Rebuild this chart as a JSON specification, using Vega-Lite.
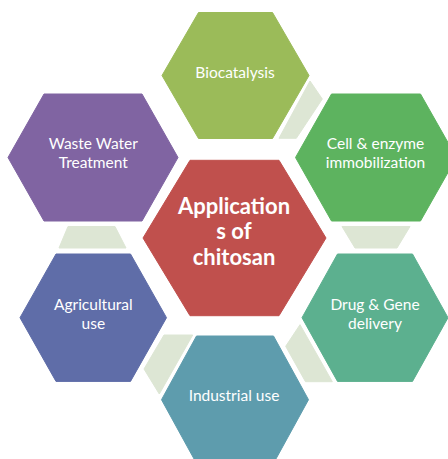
{
  "$schema": "https://vega.github.io/schema/vega-lite/v6.json",
  "width": 448,
  "height": 459,
  "autosize": {"type": "fit", "contains": "padding"},
  "padding": 0,
  "background": "white",
  "view": {"stroke": null},
  "datasets": {
    "polys": [
      {"shape": "Biocatalysis", "part": "Biocatalysis", "i": 0, "x": 162, "y": 75.5},
      {"shape": "Biocatalysis", "part": "Biocatalysis", "i": 1, "x": 198.5, "y": 12.5},
      {"shape": "Biocatalysis", "part": "Biocatalysis", "i": 2, "x": 272.5, "y": 12.5},
      {"shape": "Biocatalysis", "part": "Biocatalysis", "i": 3, "x": 309, "y": 75.5},
      {"shape": "Biocatalysis", "part": "Biocatalysis", "i": 4, "x": 272.5, "y": 138.5},
      {"shape": "Biocatalysis", "part": "Biocatalysis", "i": 5, "x": 198.5, "y": 138.5},
      {"shape": "Waste", "part": "Waste", "i": 0, "x": 8, "y": 157.5},
      {"shape": "Waste", "part": "Waste", "i": 1, "x": 44, "y": 94},
      {"shape": "Waste", "part": "Waste", "i": 2, "x": 142, "y": 94},
      {"shape": "Waste", "part": "Waste", "i": 3, "x": 178, "y": 157.5},
      {"shape": "Waste", "part": "Waste", "i": 4, "x": 142, "y": 221},
      {"shape": "Waste", "part": "Waste", "i": 5, "x": 44, "y": 221},
      {"shape": "Cell", "part": "Cell", "i": 0, "x": 295.5, "y": 157.5},
      {"shape": "Cell", "part": "Cell", "i": 1, "x": 331.5, "y": 94},
      {"shape": "Cell", "part": "Cell", "i": 2, "x": 420.5, "y": 94},
      {"shape": "Cell", "part": "Cell", "i": 3, "x": 456.5, "y": 157.5},
      {"shape": "Cell", "part": "Cell", "i": 4, "x": 420.5, "y": 221},
      {"shape": "Cell", "part": "Cell", "i": 5, "x": 331.5, "y": 221},
      {"shape": "Agri", "part": "Agri", "i": 0, "x": 20, "y": 317.7},
      {"shape": "Agri", "part": "Agri", "i": 1, "x": 56, "y": 254},
      {"shape": "Agri", "part": "Agri", "i": 2, "x": 130.5, "y": 254},
      {"shape": "Agri", "part": "Agri", "i": 3, "x": 166.5, "y": 317.7},
      {"shape": "Agri", "part": "Agri", "i": 4, "x": 130.5, "y": 381.4},
      {"shape": "Agri", "part": "Agri", "i": 5, "x": 56, "y": 381.4},
      {"shape": "Drug", "part": "Drug", "i": 0, "x": 302, "y": 317.7},
      {"shape": "Drug", "part": "Drug", "i": 1, "x": 337.5, "y": 254},
      {"shape": "Drug", "part": "Drug", "i": 2, "x": 412.5, "y": 254},
      {"shape": "Drug", "part": "Drug", "i": 3, "x": 448, "y": 317.7},
      {"shape": "Drug", "part": "Drug", "i": 4, "x": 412.5, "y": 381.4},
      {"shape": "Drug", "part": "Drug", "i": 5, "x": 337.5, "y": 381.4},
      {"shape": "Industrial", "part": "Industrial", "i": 0, "x": 161.5, "y": 399.7},
      {"shape": "Industrial", "part": "Industrial", "i": 1, "x": 196.5, "y": 336},
      {"shape": "Industrial", "part": "Industrial", "i": 2, "x": 273.5, "y": 336},
      {"shape": "Industrial", "part": "Industrial", "i": 3, "x": 308.5, "y": 399.7},
      {"shape": "Industrial", "part": "Industrial", "i": 4, "x": 273.5, "y": 463.4},
      {"shape": "Industrial", "part": "Industrial", "i": 5, "x": 196.5, "y": 463.4},
      {"shape": "Center", "part": "Center", "i": 0, "x": 143, "y": 238},
      {"shape": "Center", "part": "Center", "i": 1, "x": 190, "y": 160.3},
      {"shape": "Center", "part": "Center", "i": 2, "x": 279, "y": 160.3},
      {"shape": "Center", "part": "Center", "i": 3, "x": 326, "y": 238},
      {"shape": "Center", "part": "Center", "i": 4, "x": 279, "y": 315.7},
      {"shape": "Center", "part": "Center", "i": 5, "x": 190, "y": 315.7},
      {"shape": "L1", "part": "Link", "i": 0, "x": 310, "y": 81},
      {"shape": "L1", "part": "Link", "i": 1, "x": 322.3, "y": 99},
      {"shape": "L1", "part": "Link", "i": 2, "x": 296.3, "y": 138.3},
      {"shape": "L1", "part": "Link", "i": 3, "x": 279, "y": 138.3},
      {"shape": "L2", "part": "Link", "i": 0, "x": 342, "y": 226.5},
      {"shape": "L2", "part": "Link", "i": 1, "x": 410, "y": 226.5},
      {"shape": "L2", "part": "Link", "i": 2, "x": 397, "y": 248},
      {"shape": "L2", "part": "Link", "i": 3, "x": 355, "y": 248},
      {"shape": "L3", "part": "Link", "i": 0, "x": 300, "y": 324.7},
      {"shape": "L3", "part": "Link", "i": 1, "x": 332.3, "y": 381.7},
      {"shape": "L3", "part": "Link", "i": 2, "x": 305.5, "y": 381.7},
      {"shape": "L3", "part": "Link", "i": 3, "x": 285.7, "y": 346.3},
      {"shape": "L4", "part": "Link", "i": 0, "x": 164, "y": 335},
      {"shape": "L4", "part": "Link", "i": 1, "x": 192.7, "y": 335},
      {"shape": "L4", "part": "Link", "i": 2, "x": 159.3, "y": 394},
      {"shape": "L4", "part": "Link", "i": 3, "x": 144, "y": 369},
      {"shape": "L5", "part": "Link", "i": 0, "x": 68, "y": 226.5},
      {"shape": "L5", "part": "Link", "i": 1, "x": 115, "y": 226.5},
      {"shape": "L5", "part": "Link", "i": 2, "x": 126, "y": 248},
      {"shape": "L5", "part": "Link", "i": 3, "x": 59, "y": 248}
    ],
    "labels": [
      {"label": "Biocatalysis", "kind": "outer", "x": 235, "y": 73},
      {"label": "Cell & enzyme\nimmobilization", "kind": "outer", "x": 375.5, "y": 144},
      {"label": "Waste Water\nTreatment", "kind": "outer", "x": 93.3, "y": 144},
      {"label": "Agricultural\nuse", "kind": "outer", "x": 93.3, "y": 305},
      {"label": "Drug & Gene\ndelivery", "kind": "outer", "x": 375, "y": 305},
      {"label": "Industrial use", "kind": "outer", "x": 234, "y": 396},
      {"label": "Application\ns of\nchitosan", "kind": "center", "x": 234, "y": 206.7}
    ]
  },
  "layer": [
    {
      "data": {"name": "polys"},
      "mark": {"type": "line", "interpolate": "linear-closed", "strokeWidth": 1, "clip": true},
      "encoding": {
        "x": {"field": "x", "type": "quantitative", "scale": {"domain": [0, 448], "nice": false, "zero": false}, "axis": null},
        "y": {"field": "y", "type": "quantitative", "scale": {"domain": [0, 459], "nice": false, "zero": false, "reverse": true}, "axis": null},
        "detail": {"field": "shape"},
        "order": {"field": "i", "type": "quantitative"},
        "fill": {"field": "part", "type": "nominal", "legend": null,
          "scale": {"domain": ["Biocatalysis", "Waste", "Cell", "Agri", "Drug", "Industrial", "Center", "Link"],
                    "range": ["#9BBB59", "#8064A2", "#5DB35F", "#5F6DA8", "#5CB08F", "#5E9CAD", "#C0504D", "#DDE6D4"]}},
        "stroke": {"field": "part", "type": "nominal", "legend": null,
          "scale": {"domain": ["Biocatalysis", "Waste", "Cell", "Agri", "Drug", "Industrial", "Center", "Link"],
                    "range": ["#9BBB59", "#8064A2", "#5DB35F", "#5F6DA8", "#5CB08F", "#5E9CAD", "#C0504D", "#DDE6D4"]}}
      }
    },
    {
      "data": {"name": "labels"},
      "transform": [{"filter": "datum.kind == 'outer'"}],
      "mark": {"type": "text", "color": "white", "font": "Lato", "fontSize": 15.5, "lineHeight": 19.3, "lineBreak": "\n", "align": "center", "baseline": "middle"},
      "encoding": {
        "x": {"field": "x", "type": "quantitative"},
        "y": {"field": "y", "type": "quantitative"},
        "text": {"field": "label"}
      }
    },
    {
      "data": {"name": "labels"},
      "transform": [{"filter": "datum.kind == 'center'"}],
      "mark": {"type": "text", "color": "white", "font": "Lato", "fontWeight": "bold", "fontSize": 22, "lineHeight": 25.8, "lineBreak": "\n", "align": "center", "baseline": "middle"},
      "encoding": {
        "x": {"field": "x", "type": "quantitative"},
        "y": {"field": "y", "type": "quantitative"},
        "text": {"field": "label"}
      }
    }
  ]
}
